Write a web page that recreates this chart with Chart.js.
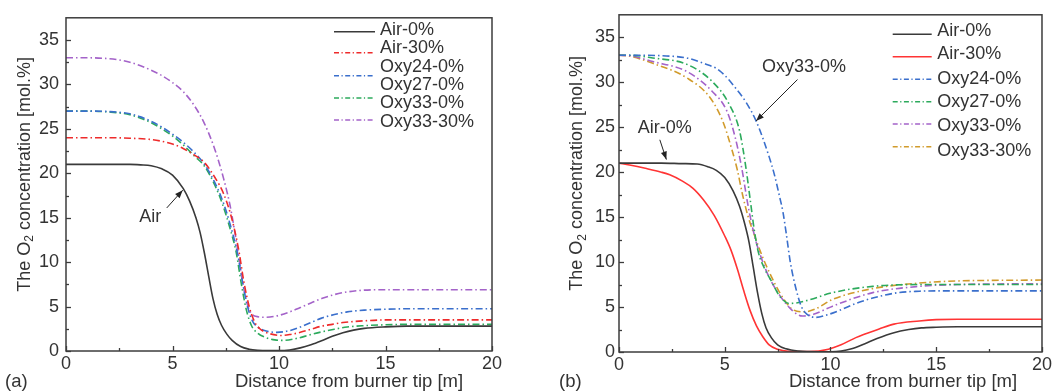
<!DOCTYPE html>
<html><head><meta charset="utf-8">
<script src="https://cdn.jsdelivr.net/npm/chart.js@4.4.0/dist/chart.umd.min.js"></script>
<style>
html,body{margin:0;padding:0;background:#fff;width:1054px;height:392px;overflow:hidden}
canvas{position:absolute;top:0}
#ca{left:0}
#cb{left:527px}
</style></head><body>
<canvas id="ca" width="527" height="392"></canvas>
<canvas id="cb" width="527" height="392"></canvas>
<script>
// ---------- Panel (a) data ----------
const A_X_air0 = [0,1,2,3,3.5,4,4.5,5,5.5,5.8,6.1,6.3,6.5,6.7,6.9,7.1,7.3,7.55,7.8,8.2,8.6,9,9.5,10,10.5,11,11.5,12,12.5,13,13.5,14,15,16,18,20];
const A_Y_air0 = [21,21,21,21,20.95,20.85,20.5,19.8,18.3,16.9,15.0,13.3,11.0,8.4,5.9,4.1,2.9,1.9,1.2,0.5,0.2,0.08,0.04,0.04,0.12,0.35,0.7,1.15,1.65,2.05,2.35,2.55,2.72,2.8,2.8,2.8];
const A_X_air30 = [0,2,3,4,4.5,5,5.5,6,6.5,7,7.4,7.75,8.1,8.35,8.6,8.85,9.1,9.5,10.1,10.5,11,11.5,12,12.5,13,14,15,16,20];
const A_Y_air30 = [24,24,23.95,23.8,23.6,23.3,22.8,22.1,21.2,19.5,17.7,15.2,11.5,7.8,5.0,3.3,2.5,2.0,1.75,1.85,2.1,2.45,2.8,3.0,3.2,3.4,3.5,3.5,3.5];
const A_X_oxy24 = [0,1,2,3,3.5,4,4.5,5,5.5,6,6.5,7,7.4,7.7,8.05,8.3,8.5,8.75,9.0,9.4,9.9,10.5,11,11.5,12,12.6,13.2,14,15,16,20];
const A_Y_oxy24 = [27,27,26.95,26.7,26.35,25.85,25.2,24.4,23.5,22.4,21.0,18.9,16.6,14.3,11.0,7.6,5.2,3.4,2.7,2.25,2.1,2.3,2.7,3.2,3.7,4.1,4.4,4.6,4.7,4.75,4.75];
const A_X_oxy27 = [0,1,2,3,3.5,4,4.5,5,5.5,6,6.5,7,7.35,7.7,8.0,8.2,8.45,8.7,9.0,9.4,9.8,10.2,10.8,11.5,12,12.6,13.2,14,15,16,20];
const A_Y_oxy27 = [27,27,26.9,26.6,26.2,25.7,25.0,24.2,23.2,22.0,20.8,18.6,16.5,13.8,11.0,8.0,4.8,2.9,2.0,1.5,1.25,1.2,1.4,1.85,2.15,2.45,2.7,2.85,2.95,3.0,3.0];
const A_X_oxy33 = [0,1,2,2.5,3,3.5,4,4.5,5,5.5,6,6.5,7,7.4,7.7,8.0,8.25,8.45,8.65,8.9,9.4,9.9,10.5,11,11.5,12,12.6,13.2,14,15,16,20];
const A_Y_oxy33 = [33,33,32.9,32.75,32.5,32.1,31.6,31.0,30.2,29.2,27.7,25.6,22.6,19.4,16.4,12.3,8.4,5.8,4.4,3.9,3.8,3.95,4.4,4.9,5.4,5.9,6.35,6.65,6.85,6.9,6.9,6.9];
const A_LEGEND = ['Air-0%','Air-30%','Oxy24-0%','Oxy27-0%','Oxy33-0%','Oxy33-30%'];

// ---------- Panel (b) data ----------
const B_X_air0 = [0,1,2,3,3.7,4.2,4.6,5.0,5.4,5.7,5.95,6.15,6.35,6.55,6.75,6.95,7.2,7.5,7.9,8.5,9,10,10.5,11,11.6,12.2,13,13.7,14.3,15,16,20];
const B_Y_air0 = [21,21,21,20.95,20.9,20.6,20.2,19.4,17.9,16.2,14.2,12.2,9.4,6.6,4.3,2.7,1.6,0.8,0.35,0.1,0.05,0.03,0.1,0.35,0.9,1.5,2.15,2.5,2.68,2.75,2.8,2.8];
const B_X_air30 = [0,0.5,1.3,2,2.4,3,3.5,4,4.5,5,5.3,5.6,5.9,6.2,6.5,6.8,7.1,7.5,8,9,9.9,10.5,11.2,12.3,13,14.2,15,16,20];
const B_Y_air30 = [21,20.8,20.4,20.0,19.7,19.0,18.2,16.9,15.2,12.9,11.3,9.2,6.8,4.6,2.9,1.7,0.8,0.3,0.08,0.05,0.3,0.8,1.6,2.55,3.1,3.45,3.6,3.65,3.65];
const B_X_oxy24 = [0,1,2,3.2,4,4.75,5.7,6.0,6.5,7.1,7.35,7.6,7.75,7.9,8.1,8.35,8.6,8.8,9.3,9.8,10.4,11.2,12,13.2,14.2,15,20];
const B_Y_oxy24 = [33,33,32.95,32.7,32.1,31.3,28.8,27.8,25.6,21.7,19.7,17.2,15.6,13.3,10.0,7.2,5.2,4.4,3.85,4.1,4.6,5.4,6.0,6.6,6.76,6.8,6.8];
const B_X_oxy27 = [0,0.5,1.6,3.2,4.4,5.2,5.7,6.0,6.2,6.4,6.6,6.9,7.2,7.6,8.05,8.5,9.0,10.1,12,14.2,16,20];
const B_Y_oxy27 = [33,33,32.7,32.0,30.1,27.6,24.6,20.5,17.0,13.5,11.0,9.2,7.9,6.2,5.4,5.5,5.8,6.6,7.3,7.5,7.5,7.5];
const B_X_oxy33 = [0,0.5,1.6,3.2,4.4,5.1,5.5,5.8,6.1,6.3,6.5,6.8,7.1,7.6,8.2,8.67,9.2,10.1,12,14.2,16,20];
const B_Y_oxy33 = [33,32.95,32.3,31.2,29.0,26.8,23.8,20.5,16.3,14.0,12.1,10.0,8.3,6.3,4.6,4.0,4.2,5.1,6.6,7.3,7.5,7.6];
const B_X_oxy3330 = [0,0.5,1.6,3.2,4.3,4.9,5.35,5.6,5.85,6.1,6.4,6.8,7.2,7.6,8.2,8.75,9.3,10.1,12,14.2,16,20];
const B_Y_oxy3330 = [33,32.9,32.1,30.5,28.3,25.7,22.4,20.2,17.4,15.1,13.0,10.5,8.4,6.6,4.75,4.46,4.8,5.85,7.05,7.67,7.9,8.0];
const B_LEGEND = ['Air-0%','Air-30%','Oxy24-0%','Oxy27-0%','Oxy33-0%','Oxy33-30%'];

// ---------- Axes ----------
const X_TICKS = [0,5,10,15,20];
const Y_TICKS = [0,5,10,15,20,25,30,35];
const X_TITLE = 'Distance from burner tip [m]';
const Y_TITLE = ['The O', '2', ' concentration [mol.%]'];

const FONT = '"Liberation Sans", Arial, Helvetica, sans-serif';
const C = {black:'#3a3a3a', red:'#ee2b2b', red2:'#ff3434', blue:'#3a6fcc', green:'#2caa5c', purple:'#a463c9', orange:'#d19b2c'};
const DD = [7,3,1.5,3];

function pts(xs, ys){ return xs.map((x,i)=>({x:x, y:ys[i]})); }
function ds(label, xs, ys, color, dash){
  return {label:label, data:pts(xs,ys), borderColor:color, backgroundColor:color, borderWidth:1.6,
          borderDash:dash||[], pointRadius:0, fill:false, cubicInterpolationMode:'monotone'};
}

const deco = {
  id:'deco',
  afterDraw(chart, args, o){
    const ctx = chart.ctx, ca = chart.chartArea, xs = chart.scales.x, ys = chart.scales.y;
    ctx.save();
    ctx.strokeStyle = '#3c3c3c';
    ctx.lineWidth = 1.5;
    ctx.setLineDash([]);
    ctx.strokeRect(ca.left, ca.top, ca.right-ca.left, ca.bottom-ca.top);
    ctx.lineWidth = 1.3;
    for (let v = xs.min; v <= xs.max + 1e-9; v += 2.5){
      const px = Math.round(xs.getPixelForValue(v)) + 0.5, L = (v % 5 === 0) ? 5 : 3;
      ctx.beginPath(); ctx.moveTo(px, ca.bottom); ctx.lineTo(px, ca.bottom - L); ctx.stroke();
    }
    for (let v = ys.min; v <= 35 + 1e-9; v += 2.5){
      const py = Math.round(ys.getPixelForValue(v)) + 0.5, L = (v % 5 === 0) ? 5 : 3;
      ctx.beginPath(); ctx.moveTo(ca.left, py); ctx.lineTo(ca.left + L, py); ctx.stroke();
    }
    ctx.fillStyle = '#333';
    ctx.textBaseline = 'middle';
    // x title
    ctx.font = '18.5px ' + FONT;
    ctx.textAlign = 'center';
    ctx.fillText(X_TITLE, o.xTitleX, o.xTitleY);
    ctx.textAlign = 'left';
    ctx.fillText(o.letter, o.letterX, o.xTitleY);
    // y title with subscript
    ctx.save();
    ctx.translate(o.yTitleX, (ca.top + ca.bottom)/2 + o.yTitleDy);
    ctx.rotate(-Math.PI/2);
    const fMain = '18px ' + FONT, fSub = '12px ' + FONT;
    ctx.font = fMain; const w0 = ctx.measureText(Y_TITLE[0]).width, w2 = ctx.measureText(Y_TITLE[2]).width;
    ctx.font = fSub; const w1 = ctx.measureText(Y_TITLE[1]).width;
    let x0 = -(w0 + w1 + w2)/2;
    ctx.font = fMain; ctx.fillText(Y_TITLE[0], x0, 0);
    ctx.font = fSub; ctx.fillText(Y_TITLE[1], x0 + w0, 5);
    ctx.font = fMain; ctx.fillText(Y_TITLE[2], x0 + w0 + w1, 0);
    ctx.restore();
    // legend
    ctx.font = '18px ' + FONT;
    ctx.textAlign = 'left';
    o.legendText.forEach((t, i) => ctx.fillText(t, o.legTextX, o.legTextY[i]));
    chart.data.datasets.forEach((d, i) => {
      const y = o.legLineY[i];
      ctx.strokeStyle = d.borderColor; ctx.lineWidth = 1.6;
      ctx.setLineDash(d.borderDash.length ? [5,2.5,1.2,2.5] : []);
      ctx.beginPath(); ctx.moveTo(o.legLineX[0], y); ctx.lineTo(o.legLineX[1], y); ctx.stroke();
    });
    ctx.setLineDash([]);
    // annotations
    ctx.fillStyle = '#333'; ctx.strokeStyle = '#222'; ctx.lineWidth = 1;
    ctx.textAlign = 'center';
    (o.notes || []).forEach(n => {
      ctx.font = '18px ' + FONT;
      ctx.fillText(n.text, xs.getPixelForValue(n.tx), ys.getPixelForValue(n.ty));
      const x1 = xs.getPixelForValue(n.ax1), y1 = ys.getPixelForValue(n.ay1);
      const x2 = xs.getPixelForValue(n.ax2), y2 = ys.getPixelForValue(n.ay2);
      ctx.beginPath(); ctx.moveTo(x1, y1); ctx.lineTo(x2, y2); ctx.stroke();
      const a = Math.atan2(y2 - y1, x2 - x1), h = 8, s = 3;
      ctx.beginPath();
      ctx.moveTo(x2, y2);
      ctx.lineTo(x2 - h*Math.cos(a) + s*Math.sin(a), y2 - h*Math.sin(a) - s*Math.cos(a));
      ctx.lineTo(x2 - h*Math.cos(a) - s*Math.sin(a), y2 - h*Math.sin(a) + s*Math.cos(a));
      ctx.closePath(); ctx.fillStyle = '#222'; ctx.fill(); ctx.fillStyle = '#333';
    });
    ctx.restore();
  }
};

function makeChart(id, datasets, lay, decoOpts){
  return new Chart(document.getElementById(id), {
    type:'line',
    data:{datasets:datasets},
    plugins:[deco],
    options:{
      responsive:false, animation:false, devicePixelRatio:1,
      layout:{padding:{top:lay.top, right:lay.right, left:0, bottom:0}},
      plugins:{legend:{display:false}, tooltip:{enabled:false}, deco:decoOpts},
      scales:{
        x:{type:'linear', min:0, max:20,
           afterBuildTicks(s){ s.ticks = X_TICKS.map(v=>({value:v})); },
           ticks:{font:{size:18, family:FONT}, color:'#333', padding:lay.xPad, maxRotation:0, autoSkip:false},
           grid:{display:false, drawTicks:false}, border:{display:false},
           afterFit(s){ s.height = lay.xh; }},
        y:{type:'linear', min:0, max:37.5,
           afterBuildTicks(s){ s.ticks = Y_TICKS.map(v=>({value:v})); },
           ticks:{font:{size:18, family:FONT}, color:'#333', padding:lay.yPad},
           grid:{display:false, drawTicks:false}, border:{display:false},
           afterFit(s){ s.width = lay.yw; }}
      }
    }
  });
}

makeChart('ca', [
  ds(A_LEGEND[0], A_X_air0, A_Y_air0, C.black),
  ds(A_LEGEND[1], A_X_air30, A_Y_air30, C.red, DD),
  ds(A_LEGEND[2], A_X_oxy24, A_Y_oxy24, C.blue, DD),
  ds(A_LEGEND[3], A_X_oxy27, A_Y_oxy27, C.green, DD),
  ds(A_LEGEND[5], A_X_oxy33, A_Y_oxy33, C.purple, DD)
], {top:8, right:35, xh:41, yw:66, xPad:2, yPad:7}, {
  xTitleX:349, xTitleY:382, letter:'(a)', letterX:5, yTitleX:25, yTitleDy:-10,
  legendText:A_LEGEND, legTextX:380, legTextY:[30,48.3,66.7,85,103.3,122],
  legLineX:[334,375], legLineY:[31.7,52.7,75.7,98,120],
  notes:[{text:'Air', tx:3.95, ty:15.1, ax1:4.73, ay1:16.1, ax2:5.48, ay2:18.1}]
});

makeChart('cb', [
  ds(B_LEGEND[0], B_X_air0, B_Y_air0, C.black),
  ds(B_LEGEND[1], B_X_air30, B_Y_air30, C.red2),
  ds(B_LEGEND[2], B_X_oxy24, B_Y_oxy24, C.blue, DD),
  ds(B_LEGEND[3], B_X_oxy27, B_Y_oxy27, C.green, DD),
  ds(B_LEGEND[4], B_X_oxy33, B_Y_oxy33, C.purple, DD),
  ds(B_LEGEND[5], B_X_oxy3330, B_Y_oxy3330, C.orange, DD)
], {top:9, right:10, xh:40, yw:92, xPad:2, yPad:4}, {
  xTitleX:376, xTitleY:382, letter:'(b)', letterX:32, yTitleX:50.5, yTitleDy:-10,
  legendText:B_LEGEND, legTextX:410.3, legTextY:[30.7,54,78.7,101.7,126,150.7],
  legLineX:[365.7,404.7], legLineY:[34.3,56.7,79.3,101.7,124,146.7],
  notes:[{text:'Oxy33-0%', tx:8.75, ty:31.7, ax1:8.44, ay1:30.3, ax2:6.48, ay2:25.7},
         {text:'Air-0%', tx:2.16, ty:24.9, ax1:1.93, ay1:23.6, ax2:2.24, ay2:21.4}]
});
</script></body></html>
